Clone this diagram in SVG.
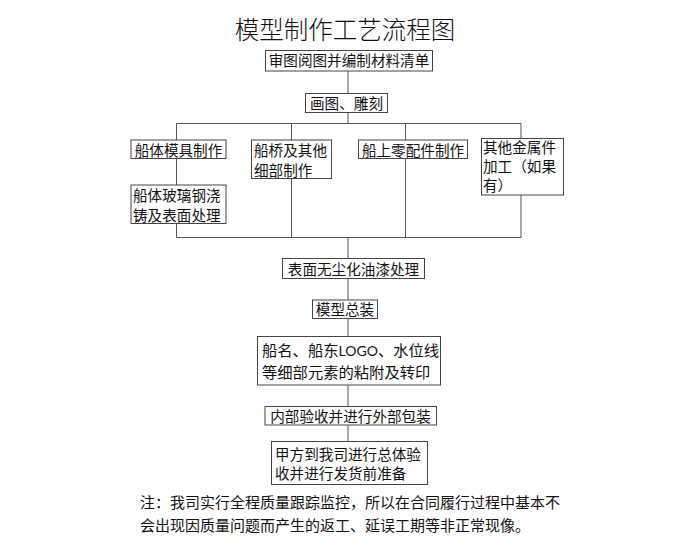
<svg xmlns="http://www.w3.org/2000/svg" width="700" height="560" viewBox="0 0 700 560">
<style>
.b{fill:#fff;stroke:#444;stroke-width:1}
.c{stroke:#555;stroke-width:1;fill:none}
text{font-family:"Liberation Serif","Noto Sans CJK SC",serif;fill:#111;font-size:14.6px}
.t{font-size:24.5px;font-weight:300}
.m{text-anchor:middle}
</style>
<rect width="700" height="560" fill="#fff"/>
<text class="t m" x="345" y="39">模型制作工艺流程图</text>
<g id="connectors" class="c">
<path d="M348 71V93.5M348 112.5V123.5M176.5 123.5H521M176.5 123.5V140M291.5 123.5V140M405.5 123.5V140M521 123.5V138.5"/>
<path d="M176.5 158.5V185M176.5 223.5V237.5M291.5 178.5V237.5M405.5 158.5V237.5M521 195V237.5M176.5 237.5H521M348 237.5V258.5"/>
<path d="M348 278.5V300M348 318.5V336.5M348 385V406.5M348 425V441.5"/>
</g>
<g id="n1"><rect class="b" x="265.5" y="50.5" width="167" height="20.5"/><text class="m" x="349" y="66">审图阅图并编制材料清单</text></g>
<g id="n2"><rect class="b" x="305.5" y="93.5" width="82" height="19"/><text class="m" x="346.5" y="109">画图、雕刻</text></g>
<g id="n3"><rect class="b" x="131" y="140" width="95" height="18.5"/><text class="m" x="178.5" y="155.5">船体模具制作</text></g>
<g id="n4"><rect class="b" x="131" y="185" width="95" height="38.5"/><text x="133" y="201">船体玻璃钢浇</text><text x="133" y="221">铸及表面处理</text></g>
<g id="n5"><rect class="b" x="251.5" y="140" width="80" height="38.5"/><text x="254" y="156">船桥及其他</text><text x="254" y="175.5">细部制作</text></g>
<g id="n6"><rect class="b" x="358.5" y="140" width="109" height="18.5"/><text class="m" x="413" y="155.5">船上零配件制作</text></g>
<g id="n7"><rect class="b" x="481.5" y="138.5" width="82" height="56.5"/><text x="483" y="153">其他金属件</text><text x="483" y="172">加工（如果</text><text x="483" y="191">有）</text></g>
<g id="n8"><rect class="b" x="282.5" y="258.5" width="142" height="20"/><text class="m" x="353.5" y="274.5">表面无尘化油漆处理</text></g>
<g id="n9"><rect class="b" x="312.5" y="300" width="65" height="18.5"/><text class="m" x="345" y="315">模型总装</text></g>
<g id="n10"><rect class="b" x="257.5" y="336.5" width="183" height="48.5"/><text x="262" y="356" style="font-size:15.3px">船名、船东<tspan style="font-family:Lato,'Liberation Sans',sans-serif;font-size:14px">LOGO</tspan>、水位线</text><text x="262" y="378" style="font-size:15.3px">等细部元素的粘附及转印</text></g>
<g id="n11"><rect class="b" x="265" y="406.5" width="171.5" height="18.5"/><text class="m" x="350.5" y="421.5">内部验收并进行外部包装</text></g>
<g id="n12"><rect class="b" x="271.5" y="441.5" width="156" height="43"/><text x="275" y="460">甲方到我司进行总体验</text><text x="275" y="479">收并进行发货前准备</text></g>
<text x="140" y="508" style="font-size:15px">注：我司实行全程质量跟踪监控，所以在合同履行过程中基本不</text>
<text x="140" y="531" style="font-size:15px">会出现因质量问题而产生的返工、延误工期等非正常现像。</text>
</svg>
